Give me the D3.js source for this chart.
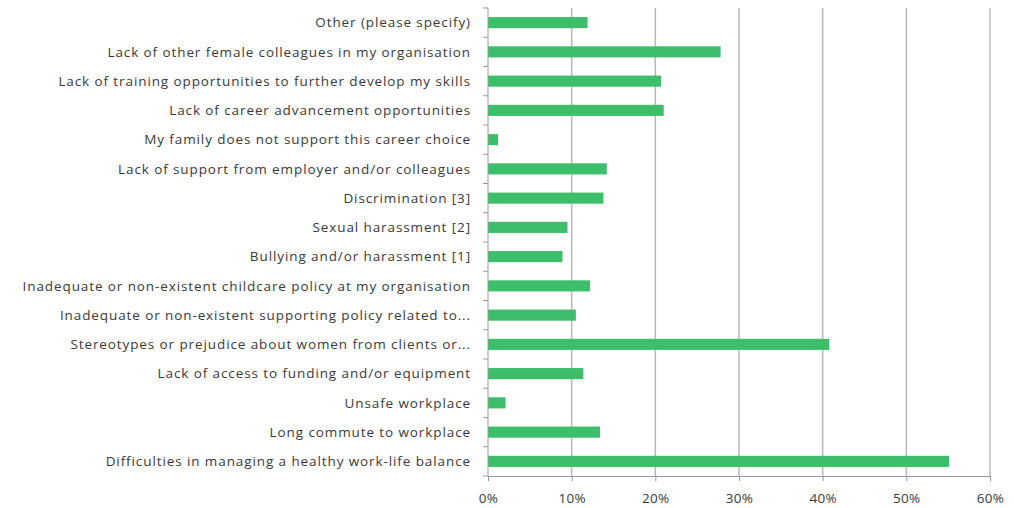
<!DOCTYPE html>
<html>
<head>
<meta charset="utf-8">
<script src="https://cdn.jsdelivr.net/npm/d3@7"></script>
<style>
  html, body { margin: 0; padding: 0; background: #fff; }
  svg { display: block; }
  .lbl { font-family: "Open Sans", sans-serif; font-size: 13.5px; letter-spacing: 0.9px; fill: #3a3a3a; }
</style>
</head>
<body>
<svg id="chart" width="1014" height="508"></svg>
<script>
// Reasons reported, listed top to bottom
const categories = [
  "Other (please specify)",
  "Lack of other female colleagues in my organisation",
  "Lack of training opportunities to further develop my skills",
  "Lack of career advancement opportunities",
  "My family does not support this career choice",
  "Lack of support from employer and/or colleagues",
  "Discrimination [3]",
  "Sexual harassment [2]",
  "Bullying and/or harassment [1]",
  "Inadequate or non-existent childcare policy at my organisation",
  "Inadequate or non-existent supporting policy related to...",
  "Stereotypes or prejudice about women from clients or...",
  "Lack of access to funding and/or equipment",
  "Unsafe workplace",
  "Long commute to workplace",
  "Difficulties in managing a healthy work-life balance"
];
// Share of respondents (fraction)
const shares = [
  0.119, 0.278, 0.207, 0.210, 0.012, 0.142, 0.138, 0.095,
  0.089, 0.122, 0.105, 0.408, 0.114, 0.021, 0.134, 0.551
];
const xTicks = [0, 0.1, 0.2, 0.3, 0.4, 0.5, 0.6];

const svg = d3.select("#chart");
const plot = { left: 488, right: 990, top: 8, bottom: 476 };

const x = d3.scaleLinear().domain([0, 0.6]).range([plot.left, plot.right]);
const y = d3.scaleBand().domain(categories).range([plot.top, plot.bottom]).paddingInner(0.62).paddingOuter(0.31);
const yb = d3.scaleBand().domain(categories).range([plot.top, plot.bottom]);

// vertical gridlines
svg.append("g").selectAll("line")
  .data(xTicks.slice(1))
  .join("line")
  .attr("x1", d => x(d)).attr("x2", d => x(d))
  .attr("y1", plot.top).attr("y2", plot.bottom)
  .attr("stroke", "#b8b8b8").attr("stroke-width", 1.5);

// bars
svg.append("g").selectAll("rect")
  .data(categories)
  .join("rect")
  .attr("x", x(0))
  .attr("y", d => y(d))
  .attr("width", (d, i) => x(shares[i]) - x(0))
  .attr("height", y.bandwidth())
  .attr("fill", "#3cbe6a");

// category axis: line, ticks at band boundaries
const gy = svg.append("g");
gy.append("line")
  .attr("x1", plot.left).attr("x2", plot.left).attr("y1", plot.top).attr("y2", plot.bottom)
  .attr("stroke", "#9a9a9a").attr("stroke-width", 1);
gy.selectAll("line.tk")
  .data(categories.concat([null]))
  .join("line").attr("class", "tk")
  .attr("x1", plot.left - 5).attr("x2", plot.left)
  .attr("y1", (d, i) => plot.top + i * yb.step())
  .attr("y2", (d, i) => plot.top + i * yb.step())
  .attr("stroke", "#9a9a9a");
gy.selectAll("text")
  .data(categories)
  .join("text").attr("class", "lbl")
  .attr("x", plot.left - 17)
  .attr("y", d => yb(d) + yb.bandwidth() / 2)
  .attr("dy", "0.35em")
  .attr("text-anchor", "end")
  .text(d => d);

// value axis
const gx = svg.append("g").attr("transform", `translate(0,${plot.bottom})`)
  .call(d3.axisBottom(x).tickValues(xTicks).tickFormat(d3.format(".0%")).tickSize(5).tickPadding(12));
gx.select(".domain").attr("stroke", "#9a9a9a");
gx.selectAll(".tick line").attr("stroke", "#9a9a9a");
gx.selectAll(".tick text").attr("class", "lbl").attr("fill", null).style("letter-spacing", "0.3px");
</script>
</body>
</html>
